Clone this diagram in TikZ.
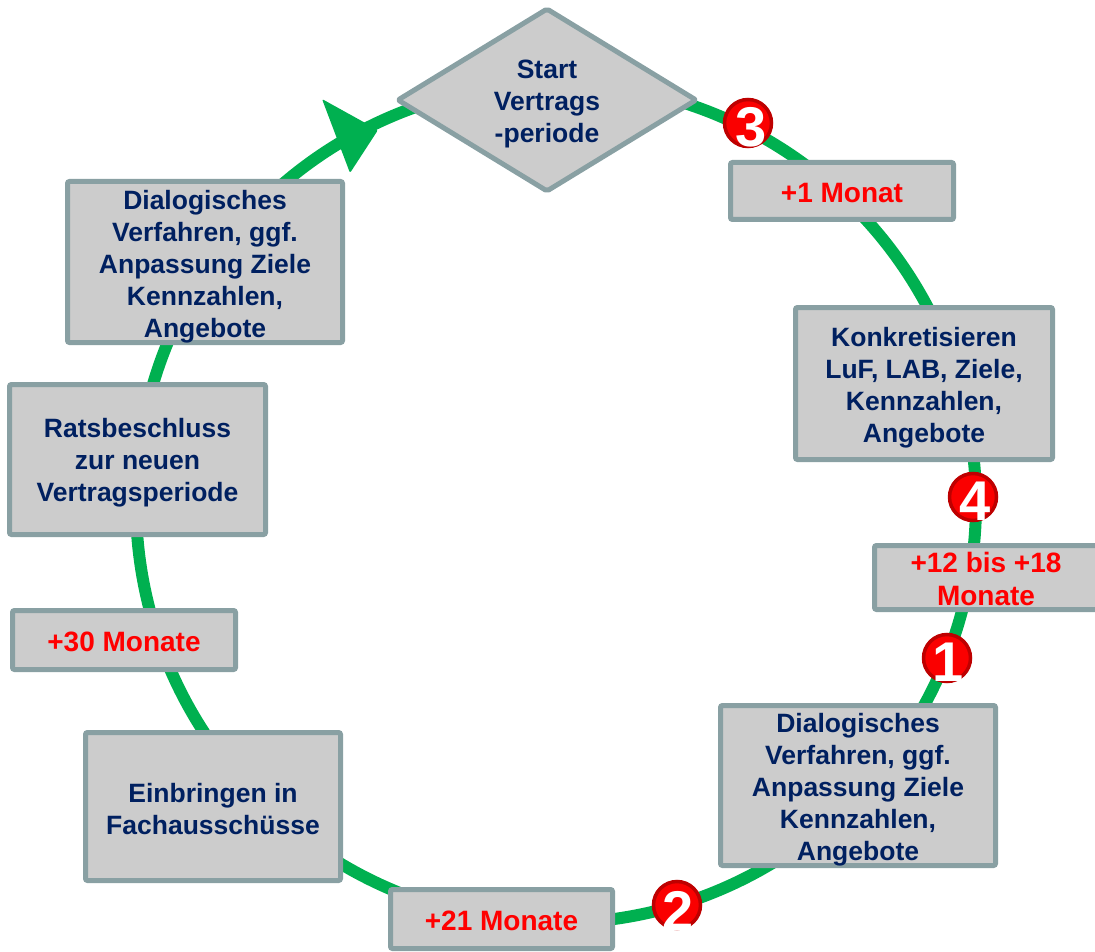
\documentclass[tikz,border=0pt]{standalone}
\usepackage{fontspec}
\setmainfont{Liberation Sans}
\usetikzlibrary{shapes.geometric}
\definecolor{grn}{RGB}{0,176,80}
\definecolor{bordc}{RGB}{137,160,163}
\definecolor{boxg}{RGB}{204,204,204}
\definecolor{navy}{RGB}{0,32,96}
\definecolor{tred}{RGB}{255,0,0}
\definecolor{numred}{RGB}{250,0,0}
\definecolor{numdark}{RGB}{190,0,0}
\begin{document}
\begin{tikzpicture}[x=1pt,y=-1pt,
  box/.style={draw=bordc, line width=5pt, fill=boxg, rounded corners=2pt, inner sep=0pt},
  txt/.style={inner sep=0pt, align=center, font=\fontsize{26.5}{32}\selectfont\bfseries, text=navy},
  rtxt/.style={inner sep=0pt, align=center, font=\fontsize{28}{33}\selectfont\bfseries, text=tred},
  num/.style={circle, fill=numred, draw=numdark, line width=3.5pt, minimum size=47pt, inner sep=0pt},
  numtxt/.style={text=white, font=\fontsize{56}{56}\selectfont\bfseries, inner sep=0pt},
  cyc/.style={draw=grn, line width=12pt}]
\useasboundingbox (0,0) rectangle (1095,952);
% cycle
\coordinate (c) at (556,503);
\draw[cyc] (c) circle[radius=420pt];
\fill[grn, rounded corners=2pt] (322,99) -- (378,130) -- (350,173) -- cycle;
% boxes
\node[box, shape=diamond, shape aspect=1.7, minimum width=300pt, minimum height=184pt, line join=round] (start) at (547,100) {};
\node[box, minimum width=223pt, minimum height=57pt] (m1) at (842,191) {};
\node[box, minimum width=257pt, minimum height=152pt] (konk) at (924,383.5) {};
\node[box, minimum width=223pt, minimum height=64pt] (m12) at (986,577.5) {};
\node[box, minimum width=275pt, minimum height=160pt] (diar) at (858,785.5) {};
\node[box, minimum width=222pt, minimum height=59pt] (m21) at (501.5,919) {};
\node[box, minimum width=255pt, minimum height=148pt] (einb) at (213,806.5) {};
\node[box, minimum width=223pt, minimum height=59pt] (m30) at (124,640) {};
\node[box, minimum width=256pt, minimum height=150pt] (rats) at (137.5,459.5) {};
\node[box, minimum width=275pt, minimum height=161pt] (dial) at (205,262) {};
% texts
\node[txt] (tstart) at ([yshift=-4pt]start.center) {Start\\Vertrags\\-periode};
\node[rtxt] (tm1) at ([yshift=-2pt]m1.center) {+1 Monat};
\node[txt] (tkonk) at ([yshift=-4pt]konk.center) {Konkretisieren\\LuF, LAB, Ziele,\\Kennzahlen,\\Angebote};
\node[rtxt] (tm12) at ([yshift=-1pt]m12.center) {+12 bis +18\\Monate};
\node[txt] (tdiar) at ([yshift=-4pt]diar.center) {Dialogisches\\Verfahren, ggf.\\Anpassung Ziele\\Kennzahlen,\\Angebote};
\node[rtxt] (tm21) at ([yshift=-2pt]m21.center) {+21 Monate};
\node[txt] (teinb) at ([yshift=-3pt]einb.center) {Einbringen in\\Fachausschüsse};
\node[rtxt] (tm30) at ([yshift=-2pt]m30.center) {+30 Monate};
\node[txt] (trats) at ([yshift=-3pt]rats.center) {Ratsbeschluss\\zur neuen\\Vertragsperiode};
\node[txt] (tdial) at ([yshift=-5pt]dial.center) {Dialogisches\\Verfahren, ggf.\\Anpassung Ziele\\Kennzahlen,\\Angebote};
% numbers
\node[num] (n3) at (748,123) {};
\node[numtxt] (d3) at ([shift={(3,4)}]n3.center) {3};
\node[num] (n4) at (973,497) {};
\node[numtxt] (d4) at ([shift={(2,4)}]n4.center) {4};
\node[num] (n1) at (947,658) {};
\node[numtxt] (d1) at ([shift={(1,4)}]n1.center) {1};
\node[num] (n2) at (677,905) {};
\node[numtxt] (d2) at ([shift={(1,6)}]n2.center) {2};
\end{tikzpicture}
\end{document}
